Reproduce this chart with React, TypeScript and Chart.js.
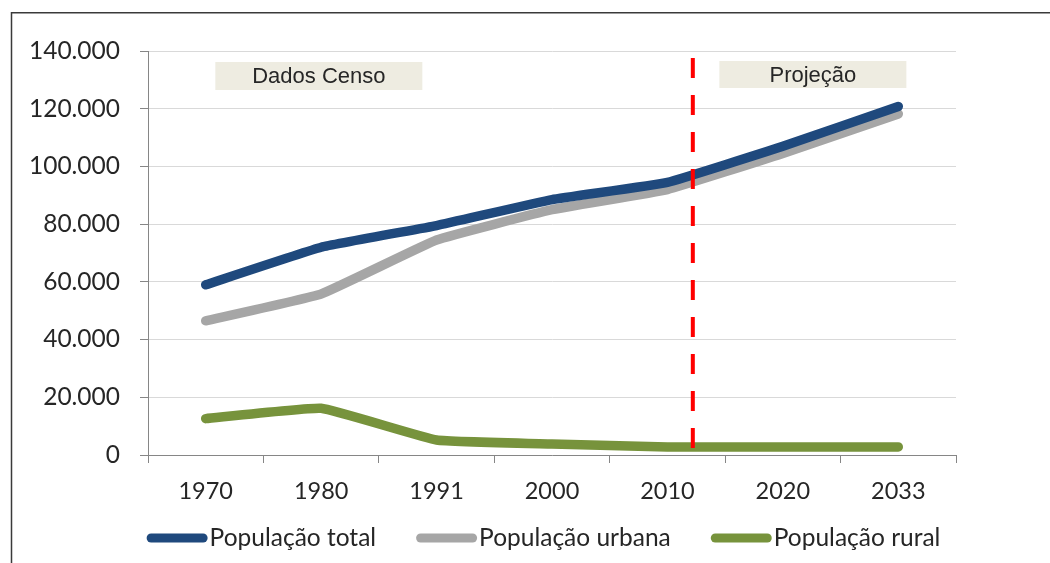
import { useEffect, useRef } from 'react';
import { Chart, registerables } from 'chart.js';

Chart.register(...registerables);

const categories = ['1970', '1980', '1991', '2000', '2010', '2020', '2033'];
const seriesLabels = ['População total', 'População urbana', 'População rural'];
const popTotal = [59000, 72000, 79500, 88500, 94500, 107000, 120800];
const popUrbana = [46500, 55800, 74500, 85000, 92000, 104500, 118200];
const popRural = [12600, 16200, 5200, 3800, 2800, 2800, 2800];
const seriesColors = ['#1F497D', '#A6A6A6', '#77933C'];
const yMin = 0;
const yMax = 140000;
const yStep = 20000;
const censusLabel = 'Dados Censo';
const projectionLabel = 'Projeção';
const dividerPosition = 4.22; // category index of the red dashed divider
const censusBoxCenter = 0.98; // category index
const projectionBoxCenter = 5.26; // category index

function fmtThousands(v: number): string {
  return String(Math.round(v)).replace(/\B(?=(\d{3})+(?!\d))/g, '.');
}

const TICK_FONT = 'Lato, "Liberation Sans", sans-serif';
const TEXT_COLOR = '#262626';
const AXIS_COLOR = '#868686';

const overlayPlugin = {
  id: 'overlay',
  beforeDraw(chart: any) {
    const ctx = chart.ctx;
    ctx.save();
    ctx.fillStyle = '#ffffff';
    ctx.fillRect(0, 0, chart.width, chart.height);
    ctx.strokeStyle = '#3a3a3a';
    ctx.lineWidth = 1.5;
    ctx.beginPath();
    ctx.moveTo(11.5, chart.height);
    ctx.lineTo(11.5, 12.75);
    ctx.lineTo(chart.width, 12.75);
    ctx.stroke();
    ctx.restore();
  },
  afterDatasetsDraw(chart: any) {
    const { ctx, chartArea } = chart;
    const xs = chart.scales.x;
    const px = (v: number) => {
      const i = Math.floor(v);
      const a = xs.getPixelForValue(i);
      const b = xs.getPixelForValue(i + 1);
      return a + (v - i) * (b - a);
    };
    ctx.save();
    // annotation boxes
    const boxes = [
      { text: censusLabel, cx: px(censusBoxCenter), w: 207, top: chartArea.top + 11, h: 28 },
      { text: projectionLabel, cx: px(projectionBoxCenter), w: 187, top: chartArea.top + 10, h: 27 },
    ];
    for (const b of boxes) {
      ctx.fillStyle = '#EEECE1';
      ctx.fillRect(b.cx - b.w / 2, b.top, b.w, b.h);
      ctx.fillStyle = TEXT_COLOR;
      ctx.font = '22px "Liberation Sans", Arial, sans-serif';
      ctx.textAlign = 'center';
      ctx.textBaseline = 'middle';
      ctx.fillText(b.text, b.cx, b.top + b.h / 2 + 1);
    }
    // red dashed divider
    const xd = px(dividerPosition);
    ctx.strokeStyle = '#FF0000';
    ctx.lineWidth = 4;
    ctx.setLineDash([20, 17]);
    ctx.beginPath();
    ctx.moveTo(xd, chartArea.top + 7);
    ctx.lineTo(xd, chartArea.bottom);
    ctx.stroke();
    ctx.setLineDash([]);

    // legend
    ctx.font = '24.5px ' + TICK_FONT;
    ctx.textAlign = 'left';
    ctx.textBaseline = 'middle';
    const sampleW = 61;
    const textGap = 2;
    const itemGap = 40;
    const widths = seriesLabels.map((l) => ctx.measureText(l).width);
    const total = widths.reduce((s, w) => s + w + sampleW + textGap, 0) + itemGap * (seriesLabels.length - 1);
    let x = 543.5 - total / 2;
    const ly = 538;
    seriesLabels.forEach((label, i) => {
      ctx.strokeStyle = seriesColors[i];
      ctx.lineWidth = 9;
      ctx.lineCap = 'round';
      ctx.beginPath();
      ctx.moveTo(x + 4.5, ly);
      ctx.lineTo(x + sampleW - 4.5, ly);
      ctx.stroke();
      ctx.fillStyle = TEXT_COLOR;
      ctx.fillText(label, x + sampleW + textGap, ly);
      x += sampleW + textGap + widths[i] + itemGap;
    });
    ctx.restore();
  },
};

export default function App() {
  const canvasRef = useRef<HTMLCanvasElement | null>(null);

  useEffect(() => {
    if (!canvasRef.current) return;
    const mk = (label: string, data: number[], color: string) => ({
      label,
      data,
      borderColor: color,
      backgroundColor: color,
      borderWidth: 9.5,
      pointRadius: 0,
      pointHoverRadius: 0,
      borderCapStyle: 'round' as const,
      borderJoinStyle: 'round' as const,
      tension: 0.1,
      fill: false,
    });
    const chart = new Chart(canvasRef.current, {
      type: 'line',
      data: {
        labels: categories,
        datasets: [
          mk(seriesLabels[0], popTotal, seriesColors[0]),
          mk(seriesLabels[1], popUrbana, seriesColors[1]),
          mk(seriesLabels[2], popRural, seriesColors[2]),
        ],
      },
      options: {
        animation: false,
        responsive: false,
        devicePixelRatio: 1,
        layout: { padding: { left: 0, right: 94, top: 51, bottom: 0 } },
        plugins: { legend: { display: false }, tooltip: { enabled: false }, title: { display: false } },
        scales: {
          x: {
            offset: true,
            grid: {
              offset: true,
              drawOnChartArea: false,
              drawTicks: true,
              tickLength: 8,
              tickColor: AXIS_COLOR,
            },
            border: { color: AXIS_COLOR, width: 1 },
            ticks: {
              color: TEXT_COLOR,
              font: { family: TICK_FONT, size: 23.5 },
              padding: 14,
              maxRotation: 0,
              autoSkip: false,
            },
            afterFit(scale: any) {
              scale.height = 108;
            },
          },
          y: {
            min: yMin,
            max: yMax,
            grid: {
              color: '#D9D9D9',
              lineWidth: 1,
              drawTicks: true,
              tickLength: 8,
              tickColor: AXIS_COLOR,
            },
            border: { color: AXIS_COLOR, width: 1 },
            ticks: {
              stepSize: yStep,
              color: TEXT_COLOR,
              font: { family: TICK_FONT, size: 24.5 },
              padding: 20,
              callback: (v: any) => fmtThousands(Number(v)),
            },
            afterFit(scale: any) {
              scale.width = 148;
            },
          },
        },
      },
      plugins: [overlayPlugin],
    });
    return () => chart.destroy();
  }, []);

  return (
    <div style={{ position: 'fixed', left: 0, top: 0, width: 1050, height: 563, background: '#fff' }}>
      <canvas ref={canvasRef} width={1050} height={563} style={{ width: 1050, height: 563, display: 'block' }} />
    </div>
  );
}
